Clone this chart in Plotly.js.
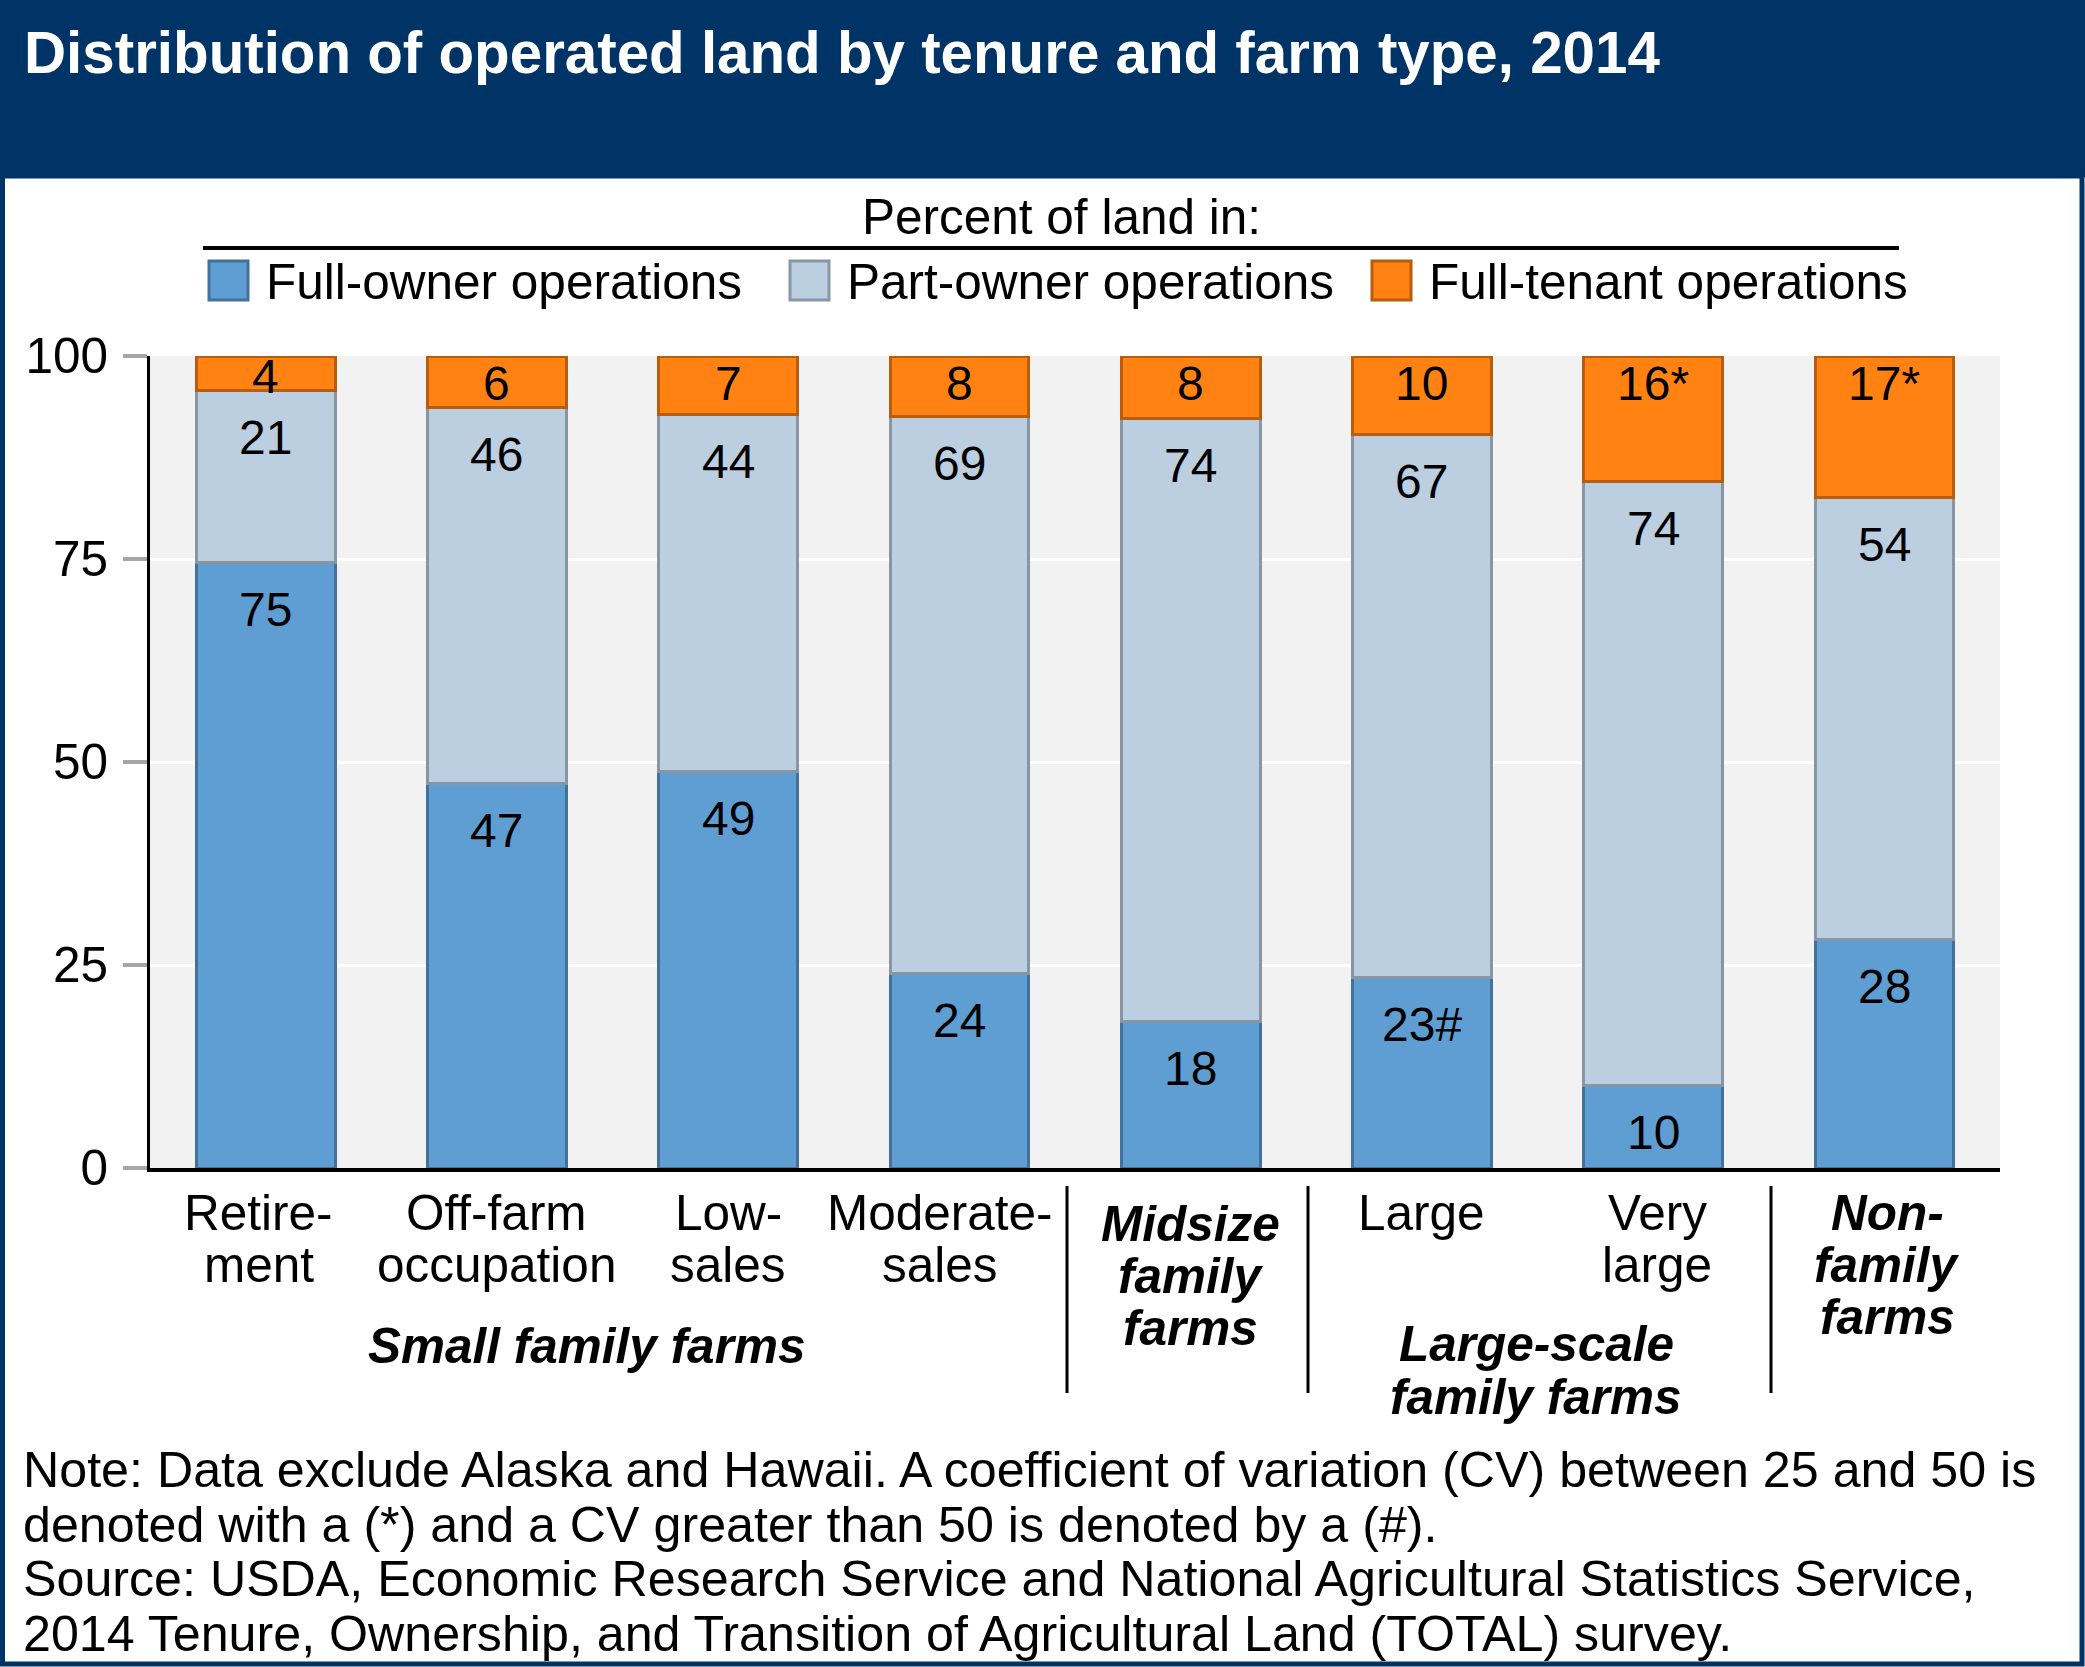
<!DOCTYPE html>
<html>
<head>
<meta charset="utf-8">
<script src="https://cdn.plot.ly/plotly-3.0.1.min.js"></script>
<style>
  html, body { margin: 0; padding: 0; background: #ffffff; }
  #chart { width: 2085px; height: 1667px; }
</style>
</head>
<body>
<div id="chart"></div>
<script>
// ---------------- DATA ----------------
const categories = ["Retirement", "Off-farm occupation", "Low-sales", "Moderate-sales",
                    "Midsize family farms", "Large", "Very large", "Nonfamily farms"];
const tickLines = [["Retire-", "ment"], ["Off-farm", "occupation"], ["Low-", "sales"],
                   ["Moderate-", "sales"], ["Midsize", "family", "farms"], ["Large"],
                   ["Very", "large"], ["Non-", "family", "farms"]];
const seriesNames = ["Full-owner operations", "Part-owner operations", "Full-tenant operations"];
const fullOwner  = [74.6, 47.3, 48.8, 24.0, 18.0, 23.4, 10.1, 28.2];
const partOwner  = [21.1, 46.4, 44.0, 68.5, 74.3, 66.9, 74.4, 54.4];
const fullTenant = [4.3, 6.3, 7.2, 7.5, 7.7, 9.7, 15.5, 17.4];
const fullOwnerLabels  = ["75", "47", "49", "24", "18", "23#", "10", "28"];
const partOwnerLabels  = ["21", "46", "44", "69", "74", "67", "74", "54"];
const fullTenantLabels = ["4", "6", "7", "8", "8", "10", "16*", "17*"];
const yTicks = [0, 25, 50, 75, 100];
const groupSmall = ["Small family farms"];
const groupLarge = ["Large-scale", "family farms"];
const legendTitle = "Percent of land in:";
const chartTitle = "Distribution of operated land by tenure and farm type, 2014";
const noteLines = [
  "Note: Data exclude Alaska and Hawaii. A coefficient of variation (CV) between 25 and 50 is",
  "denoted with a (*) and a CV greater than 50 is denoted by a (#).",
  "Source: USDA, Economic Research Service and National Agricultural Statistics Service,",
  "2014 Tenure, Ownership, and Transition of Agricultural Land (TOTAL) survey."
];

// ---------------- STYLE / LAYOUT ----------------
const FONT = "Liberation Sans, Arial, Helvetica, sans-serif";
const W = 2085, H = 1667, L = 150, R = 85, T = 356, B = 499;
const PW = W - L - R, PH = H - T - B;
const px = x => (x - L) / PW;
const py = y => (H - B - y) / PH;
const NAVY = "#003366";
const fills = ["#5e9ed3", "#bccfe0", "#ff8213"];
const borders = ["#44719c", "#8896a3", "#b95c0b"];
const TXT = 49.5;
const boldCats = new Set(["Midsize family farms", "Nonfamily farms"]);
const labelShiftX = {"Retirement": -7, "Moderate-sales": -19, "Very large": 4, "Nonfamily farms": 3};
const labelShiftY = {"Midsize family farms": 11};

const seriesVals = [fullOwner, partOwner, fullTenant];
const traces = seriesVals.map((vals, k) => ({
  type: "bar", x: categories, y: vals, name: seriesNames[k],
  marker: {color: fills[k], line: {color: borders[k], width: 3}},
  hoverinfo: "skip", showlegend: false
}));

const annotations = [];
const shapes = [];

// bar value labels
const labelSets = [fullOwnerLabels, partOwnerLabels, fullTenantLabels];
const base = categories.map(() => 0);
seriesVals.forEach((vals, k) => {
  vals.forEach((v, i) => {
    const top = base[i] + v;
    const hpx = v * PH / 100;
    const shift = k === 2 ? Math.min(27, hpx / 2 + 3) : 47;
    annotations.push({
      x: categories[i], y: Math.min(top, 99.999), xref: "x", yref: "y", text: labelSets[k][i],
      showarrow: false, yanchor: "middle", yshift: -shift,
      font: {family: FONT, size: 48, color: "#000"}
    });
    base[i] = top;
  });
});

// category labels (one annotation per line)
tickLines.forEach((lines, i) => {
  const cat = categories[i];
  const bold = boldCats.has(cat);
  lines.forEach((ln, j) => {
    annotations.push({
      x: cat, xref: "x", y: 0, yref: "paper", showarrow: false,
      text: bold ? "<b><i>" + ln + "</i></b>" : ln,
      yanchor: "middle", xanchor: "center",
      xshift: labelShiftX[cat] || 0,
      yshift: -(44 + (labelShiftY[cat] || 0) + j * 52),
      font: {family: FONT, size: TXT, color: "#000"}
    });
  });
});

// group labels
function textPx(text, x, y, opts) {
  return Object.assign({
    xref: "paper", yref: "paper", x: px(x), y: py(y), text: text,
    showarrow: false, xanchor: "center", yanchor: "middle",
    font: {family: FONT, size: TXT, color: "#000"}
  }, opts || {});
}
groupSmall.forEach((ln, j) => annotations.push(textPx("<b><i>" + ln + "</i></b>", 586, 1345 + j * 53)));
groupLarge.forEach((ln, j) => annotations.push(textPx("<b><i>" + ln + "</i></b>", 1536, 1343 + j * 53)));

// separators
[1067, 1308, 1771].forEach(x => shapes.push({
  type: "line", xref: "paper", yref: "paper", x0: px(x), x1: px(x), y0: py(1186), y1: py(1393),
  line: {color: "#000", width: 3}
}));

// legend (drawn)
annotations.push(textPx(legendTitle, 1061, 217));
shapes.push({type: "line", xref: "paper", yref: "paper", x0: px(203), x1: px(1899), y0: py(248), y1: py(248),
             line: {color: "#000", width: 4}});
const legendX = [209, 790, 1372];
seriesNames.forEach((nm, k) => {
  shapes.push({type: "rect", xref: "paper", yref: "paper",
               x0: px(legendX[k]), x1: px(legendX[k] + 39), y0: py(300), y1: py(261),
               fillcolor: fills[k], line: {color: borders[k], width: 3}});
  annotations.push(textPx(nm, legendX[k] + 55, 281, {xanchor: "left"}));
});

// notes
noteLines.forEach((ln, j) => annotations.push(textPx(ln, 21, 1470 + j * 54.5,
  {xanchor: "left", font: {family: FONT, size: 50.2, color: "#000"}})));

// title band and frame
shapes.push({type: "rect", xref: "paper", yref: "paper", x0: px(0), x1: px(W), y0: py(177), y1: py(0),
             fillcolor: NAVY, line: {width: 0}, layer: "below"});
shapes.push({type: "rect", xref: "paper", yref: "paper", x0: px(2.5), x1: px(W - 3), y0: py(H - 3), y1: py(176),
             fillcolor: "rgba(0,0,0,0)", line: {color: NAVY, width: 5}, layer: "above"});

const layout = {
  width: W, height: H,
  margin: {l: L, r: R, t: T, b: B, pad: 0},
  paper_bgcolor: "#ffffff", plot_bgcolor: "#f2f2f2",
  barmode: "stack", bargap: 0.4,
  showlegend: false,
  font: {family: FONT, size: TXT, color: "#000"},
  title: {
    text: "<b>" + chartTitle + "</b>",
    xref: "container", yref: "container", x: 24 / W, xanchor: "left",
    y: 1 - 53 / H, yanchor: "middle",
    font: {family: FONT, size: 58.3, color: "#ffffff"}
  },
  xaxis: {
    type: "category", range: [-0.5, 7.5], showticklabels: false, ticks: "",
    showline: true, linecolor: "#000", linewidth: 4, showgrid: false, zeroline: false, fixedrange: true
  },
  yaxis: {
    range: [0, 100], tickmode: "array", tickvals: yTicks, ticktext: yTicks.map(String),
    showgrid: true, gridcolor: "#ffffff", gridwidth: 3, zeroline: false,
    showline: true, linecolor: "#000", linewidth: 3,
    ticks: "outside", ticklen: 24, tickwidth: 4, tickcolor: "#a6a6a6",
    ticklabelstandoff: 5,
    tickfont: {family: FONT, size: TXT, color: "#000"}, fixedrange: true
  },
  annotations: annotations,
  shapes: shapes
};

Plotly.newPlot("chart", traces, layout, {displayModeBar: false, staticPlot: true});
</script>
</body>
</html>
